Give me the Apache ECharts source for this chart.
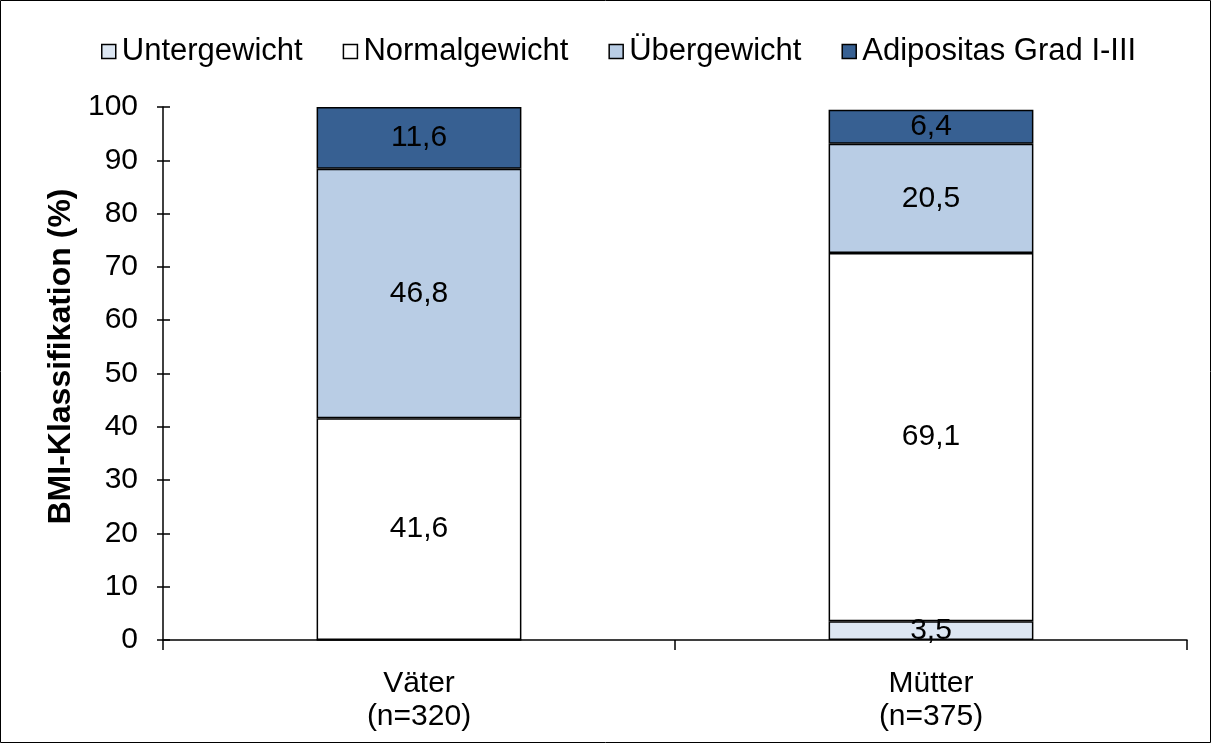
<!DOCTYPE html>
<html>
<head>
<meta charset="utf-8">
<script src="https://cdn.jsdelivr.net/npm/echarts@6/dist/echarts.min.js"></script>
<style>
  html, body { margin: 0; padding: 0; background: #fff; }
  #main { width: 1212px; height: 744px; }
</style>
</head>
<body>
<div id="main"></div>
<script>
// Daten
var gruppen = ['Väter\n(n=320)', 'Mütter\n(n=375)'];
var untergewicht = [0, 3.5];
var normalgewicht = [41.6, 69.1];
var uebergewicht = [46.8, 20.5];
var adipositas = [11.6, 6.4];
var yTicks = [0, 10, 20, 30, 40, 50, 60, 70, 80, 90, 100];

var font = 'Liberation Sans, Arial, sans-serif';

function label() {
    return {
        show: true,
        position: 'inside',
        color: '#000',
        fontFamily: font,
        fontSize: 30,
        formatter: function (p) {
            return p.value ? String(p.value.toFixed(1)).replace('.', ',') : '';
        }
    };
}

function serie(name, data, color) {
    return {
        name: name,
        type: 'bar',
        stack: 'bmi',
        barWidth: '40%',
        data: data,
        label: label(),
        itemStyle: { color: color, borderColor: '#000', borderWidth: 1.5 },
        emphasis: { disabled: true }
    };
}

var myChart = echarts.init(document.getElementById('main'));

myChart.setOption({
    animation: false,
    textStyle: { fontFamily: font },
    graphic: [{
        type: 'rect',
        shape: { x: 0.5, y: 0.5, width: 1210, height: 742 },
        style: { fill: 'none', stroke: '#000', lineWidth: 1 }
    }],
    legend: {
        top: 31,
        left: 96,
        itemWidth: 14,
        itemHeight: 14,
        itemGap: 40,
        icon: 'rect',
        textStyle: { fontSize: 31, color: '#000', padding: [0, 0, 0, 1] },
        itemStyle: { borderColor: '#000', borderWidth: 1.5 },
        data: ['Untergewicht', 'Normalgewicht', 'Übergewicht', 'Adipositas Grad I-III']
    },
    grid: { left: 163, right: 25, top: 107, bottom: 104 },
    xAxis: {
        type: 'category',
        data: gruppen,
        axisLine: { lineStyle: { color: '#000', width: 1.5 } },
        axisTick: { show: true, length: 10, lineStyle: { color: '#000', width: 1.5 } },
        axisLabel: { color: '#000', fontSize: 30, lineHeight: 33, margin: 27 }
    },
    yAxis: [{
        type: 'value',
        min: yTicks[0],
        max: yTicks[yTicks.length - 1],
        interval: 10,
        name: 'BMI-Klassifikation (%)',
        nameLocation: 'middle',
        nameGap: 85,
        nameTextStyle: { fontSize: 32, fontWeight: 'bold', color: '#000', padding: [0, 0, 0, 34] },
        splitLine: { show: false },
        axisLine: { show: true, lineStyle: { color: '#000', width: 1.5 } },
        axisTick: { show: true, length: 6, lineStyle: { color: '#000', width: 1.5 } },
        axisLabel: { color: '#000', fontSize: 30, margin: 25 }
    }, {
        type: 'value',
        position: 'left',
        min: yTicks[0],
        max: yTicks[yTicks.length - 1],
        interval: 10,
        splitLine: { show: false },
        axisLine: { show: false },
        axisTick: { show: true, inside: true, length: 7, lineStyle: { color: '#000', width: 1.5 } },
        axisLabel: { show: false }
    }],
    series: [
        serie('Untergewicht', untergewicht, '#dce6f2'),
        serie('Normalgewicht', normalgewicht, '#ffffff'),
        serie('Übergewicht', uebergewicht, '#b9cde5'),
        serie('Adipositas Grad I-III', adipositas, '#376092')
    ]
});
</script>
</body>
</html>
